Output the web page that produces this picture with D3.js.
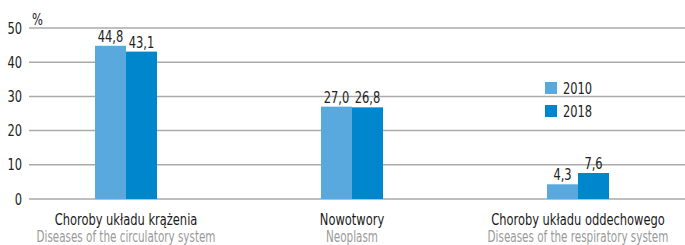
<!DOCTYPE html>
<html>
<head>
<meta charset="utf-8">
<script src="https://cdn.jsdelivr.net/npm/d3@7"></script>
<style>
  body { margin: 0; background: #fff; }
  text { font-family: "DejaVu Sans Condensed", "Liberation Sans Narrow", sans-serif; }
</style>
</head>
<body>
<script>
//chart data
var categoriesPl = ["Choroby układu krążenia", "Nowotwory", "Choroby układu oddechowego"];
var categoriesEn = ["Diseases of the circulatory system", "Neoplasm", "Diseases of the respiratory system"];
var years = ["2010", "2018"];
var values2010 = [44.8, 27.0, 4.3];
var values2018 = [43.1, 26.8, 7.6];
var yTicks = [0, 10, 20, 30, 40, 50];

window.onload = function () {
    var w = 685, h = 245;
    var colors = { "2010": "#5aa9de", "2018": "#0086cc" };

    //place a text at x,y and squeeze it horizontally (narrow font look)
    function place(sel, fx, fy, squeeze) {
        squeeze = squeeze || 0.85;
        return sel.attr("transform", function (d, i) {
            return "translate(" + fx(d, i) + "," + fy(d, i) + ") scale(" + squeeze + ",1)";
        });
    }

    var svg = d3.select("body").append("svg")
        .attr("width", w)
        .attr("height", h);

    //x scale for the groups
    var x0 = d3.scaleBand()
        .domain(categoriesPl)
        .range([13, 691]);

    //x scale for bars inside a group
    var barW = 31;
    var x1 = d3.scaleBand()
        .domain(years)
        .range([x0.bandwidth() / 2 - barW, x0.bandwidth() / 2 + barW]);

    var y = d3.scaleLinear()
        .domain([0, 50])
        .range([199, 28]);

    //gridlines
    svg.selectAll(".grid")
        .data(yTicks)
        .enter()
        .append("line")
        .attr("x1", 29)
        .attr("x2", w)
        .attr("y1", function (d) { return y(d); })
        .attr("y2", function (d) { return y(d); })
        .style("stroke", "#aaaaaa")
        .style("stroke-width", 1.5);

    //y tick labels
    place(svg.selectAll(".ytick")
        .data(yTicks)
        .enter()
        .append("text"),
        function () { return 22; },
        function (d) { return y(d) + 5.5; })
        .attr("text-anchor", "end")
        .style("font-size", "15px")
        .style("fill", "#222")
        .text(function (d) { return d; });

    place(svg.append("text"),
        function () { return 32; },
        function () { return 24.5; })
        .style("font-size", "15px")
        .style("fill", "#222")
        .text("%");

    //build rows
    var rows = categoriesPl.map(function (c, i) {
        return { cat: c, vals: [
            { year: "2010", v: values2010[i] },
            { year: "2018", v: values2018[i] }
        ] };
    });

    var groups = svg.selectAll(".group")
        .data(rows)
        .enter()
        .append("g")
        .attr("transform", function (d) { return "translate(" + x0(d.cat) + ",0)"; });

    groups.selectAll("rect")
        .data(function (d) { return d.vals; })
        .enter()
        .append("rect")
        .attr("x", function (d) { return x1(d.year); })
        .attr("width", x1.bandwidth())
        .attr("y", function (d) { return y(d.v); })
        .attr("height", function (d) { return y(0) - y(d.v); })
        .style("fill", function (d) { return colors[d.year]; });

    place(groups.selectAll(".val")
        .data(function (d) { return d.vals; })
        .enter()
        .append("text"),
        function (d) { return x1(d.year) + x1.bandwidth() / 2; },
        function (d) { return y(d.v) - 4; })
        .attr("text-anchor", "middle")
        .style("font-size", "15px")
        .style("fill", "#222")
        .text(function (d) { return d.v.toFixed(1).replace(".", ","); });

    //category labels
    place(svg.selectAll(".catPl")
        .data(categoriesPl)
        .enter()
        .append("text"),
        function (d) { return x0(d) + x0.bandwidth() / 2; },
        function () { return 224.5; })
        .attr("text-anchor", "middle")
        .style("font-size", "15px")
        .style("fill", "#1a1a1a")
        .text(function (d) { return d; });

    place(svg.selectAll(".catEn")
        .data(categoriesEn)
        .enter()
        .append("text"),
        function (d, i) { return x0(categoriesPl[i]) + x0.bandwidth() / 2; },
        function () { return 242; },
        0.77)
        .attr("text-anchor", "middle")
        .style("font-size", "15px")
        .style("fill", "#9a9a9a")
        .text(function (d) { return d; });

    //legend
    var legend = svg.selectAll(".legend")
        .data(years)
        .enter()
        .append("g")
        .attr("transform", function (d, i) { return "translate(545," + (82 + i * 23) + ")"; });

    legend.append("rect")
        .attr("width", 12)
        .attr("height", 12)
        .style("fill", function (d) { return colors[d]; });

    place(legend.append("text"),
        function () { return 18; },
        function () { return 11.5; })
        .style("font-size", "15px")
        .style("fill", "#222")
        .text(function (d) { return d; });
};
</script>
</body>
</html>
